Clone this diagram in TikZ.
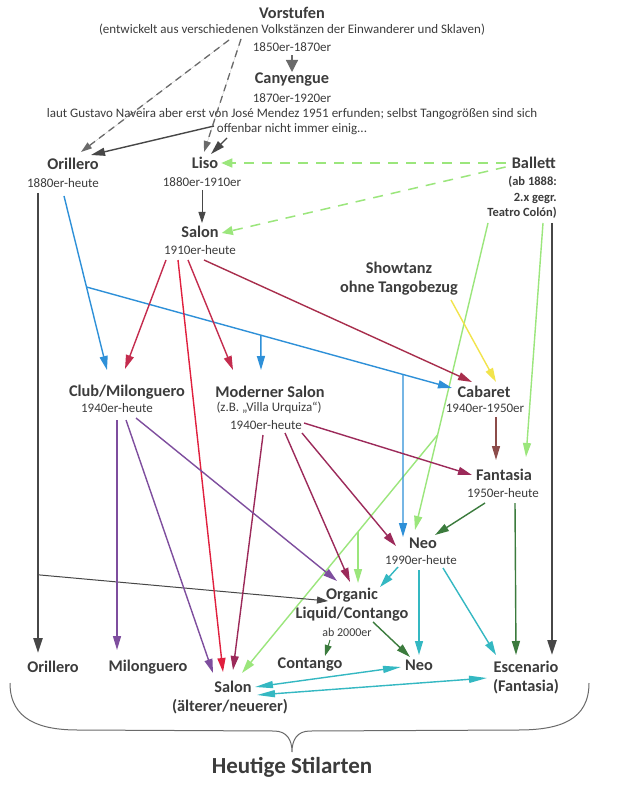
\documentclass[tikz,border=0pt]{standalone}
\usepackage{fontspec}
\setmainfont{Carlito}
\usetikzlibrary{arrows.meta,calc}
\definecolor{txt}{HTML}{3C3C3C}
\definecolor{dgray}{HTML}{474747}
\definecolor{mgray}{HTML}{6A6A6A}
\definecolor{lgreen}{HTML}{9BE67C}
\definecolor{blueL}{HTML}{2E90D8}
\definecolor{crim}{HTML}{C42C4E}
\definecolor{redL}{HTML}{E0203E}
\definecolor{maroon}{HTML}{9C2A5A}
\definecolor{salcab}{HTML}{A82E4C}
\definecolor{yel}{HTML}{F2E44C}
\definecolor{brownL}{HTML}{8C4C4A}
\definecolor{purp}{HTML}{7E4E9E}
\definecolor{tealL}{HTML}{34B8C2}
\definecolor{dgreen}{HTML}{3B7B3D}
\begin{document}
\begin{tikzpicture}[x=1pt,y=-1pt,
  tt/.style={font=\fontsize{16.3}{18}\selectfont\bfseries,text=txt,inner sep=0pt},
  st/.style={font=\fontsize{13}{15}\selectfont,text=txt,inner sep=0pt},
  bst/.style={font=\fontsize{12.5}{14}\selectfont\bfseries,text=txt,inner sep=0pt,anchor=east},
  conn/.style={line width=1.4pt,-{Triangle[length=14pt,width=8pt]}},
  thin/.style={line width=1pt,-{Triangle[length=11pt,width=7pt]}},
  gdash/.style={line width=1.3pt,dash pattern=on 7pt off 5pt,-{Triangle[length=11pt,width=7pt]}},
  ldash/.style={line width=1.5pt,dash pattern=on 10pt off 8pt,-{Triangle[length=11pt,width=9pt]}},
  dbl/.style={line width=1.4pt,{Triangle[length=18pt,width=7pt]}-{Triangle[length=18pt,width=7pt]}},
]
\useasboundingbox (0,0) rectangle (619,794);
\fill[white] (0,0) rectangle (619,794);

% ---- nodes ----
\node[tt] (vor) at (292,13) {Vorstufen};
\node[st] (vorA) at (292,30) {(entwickelt aus verschiedenen Volkstänzen der Einwanderer und Sklaven)};
\node[st] (vorB) at (292,47) {1850er-1870er};
\node[tt] (can) at (292,80) {Canyengue};
\node[st] (canA) at (292,98) {1870er-1920er};
\node[st] (canB) at (292,114) {laut Gustavo Naveira aber erst von José Mendez 1951 erfunden; selbst Tangogrößen sind sich};
\node[st] (canC) at (292,129) {offenbar nicht immer einig...};
\node[tt] (ori) at (73,164) {Orillero};
\node[st] (oriA) at (63,183) {1880er-heute};
\node[tt] (liso) at (205,163) {Liso};
\node[st] (lisoA) at (202,182) {1880er-1910er};
\node[tt,anchor=east] (bal) at (556,163) {Ballett};
\node[bst] (balA) at (557,182) {(ab 1888:};
\node[bst] (balB) at (557,198) {2.x gegr.};
\node[bst] (balC) at (557,213) {Teatro Colón)};
\node[tt] (sal) at (200,232) {Salon};
\node[st] (salA) at (200,250) {1910er-heute};
\node[tt] (show) at (399,268) {Showtanz};
\node[tt] (showA) at (399,288) {ohne Tangobezug};
\node[tt] (club) at (127,392) {Club/Milonguero};
\node[st] (clubA) at (117,408) {1940er-heute};
\node[tt] (mod) at (270,392) {Moderner Salon};
\node[st] (modA) at (269,408) {(z.B. „Villa Urquiza“)};
\node[st] (modB) at (266,425) {1940er-heute};
\node[tt] (cab) at (484,392) {Cabaret};
\node[st] (cabA) at (485,408) {1940er-1950er};
\node[tt] (fan) at (504,475) {Fantasia};
\node[st] (fanA) at (503,493) {1950er-heute};
\node[tt] (neo) at (423,543) {Neo};
\node[st] (neoA) at (421,560) {1990er-heute};
\node[tt] (org) at (352,595) {Organic};
\node[tt] (orgA) at (352,614) {Liquid/Contango};
\node[st,font=\fontsize{12}{13}\selectfont] (orgB) at (347,632) {ab 2000er};
\node[tt] (bOri) at (53,667) {Orillero};
\node[tt] (bMil) at (148,667) {Milonguero};
\node[tt] (bCon) at (310,665) {Contango};
\node[tt] (bNeo) at (419,665) {Neo};
\node[tt] (bEsc) at (526,667) {Escenario};
\node[tt] (bEscA) at (526,687) {(Fantasia)};
\node[tt] (bSal) at (233,687) {Salon};
\node[tt] (bSalA) at (230,707) {(älterer/neuerer)};
\node[tt,font=\fontsize{23}{25}\selectfont\bfseries] (heut) at (292,767) {Heutige Stilarten};

% ---- top ----
\draw[gdash,draw=mgray,fill=mgray] ($(vorA)+(-63,10)$) -- ($(ori)+(8,-12)$);
\draw[gdash,draw=mgray,fill=mgray] ($(vorA)+(-51,9)$) -- ($(liso)+(-1,-11)$);
\fill[mgray] ($(vorB)+(-1,8)$) rectangle ($(vorB)+(1,14)$);
\draw[line width=1.2pt,draw=mgray,fill=mgray,-{Triangle[length=12pt,width=12pt]}] ($(vorB)+(0,10)$) -- ($(can)+(0,-8)$);
\draw[conn,dgray] ($(canC)+(-78,-3)$) -- ($(ori)+(18,-9)$);
\draw[conn,dgray] ($(canC)+(-65,9)$) -- ($(liso)+(6,-9)$);
\draw[thin,dgray,line width=0.8pt] ($(lisoA)+(0,8)$) -- ($(sal)+(2,-9)$);

% ---- Ballett ----
\draw[ldash,lgreen] ($(bal.west)+(-6,0)$) -- ($(liso.east)+(3,0)$);
\draw[ldash,lgreen] ($(bal.west)+(-6,4)$) -- ($(sal.east)+(3,1)$);
\coordinate (g1) at ($(balC.east)+(-69,10)$);
\coordinate (g2) at ($(neo)+(-8,-13)$);
\draw[conn,lgreen] (g1) -- (g2);
\path (g1) -- (g2) coordinate[pos=0.69] (gb);
\coordinate (g3) at ($(bSal)+(9,-14)$);
\draw[conn,lgreen] (gb) -- (g3);
\path (gb) -- (g3) coordinate[pos=0.407] (gv);
\draw[conn,lgreen] (gv) -- (gv |- {$(org)+(0,-12)$});
\draw[conn,lgreen] ($(balC.east)+(-14,10)$) -- ($(fan)+(22,-18)$);
\draw[line width=2.2pt,dgray,-{Triangle[length=15pt,width=9pt]}] ($(balC.east)+(-5,10)$) -- ($(bEsc)+(26,-12)$);

% ---- Orillero ----
\coordinate (o1) at ($(oriA)+(-25,10)$);
\coordinate (o2) at ($(bOri)+(-15,-14)$);
\draw[line width=2.2pt,dgray,-{Triangle[length=15pt,width=9pt]}] (o1) -- (o2);
\path (o1) -- (o2) coordinate[pos=0.83] (ob);
\draw[thin,dgray] (ob) -- ($(org)+(-24,6)$);
\coordinate (b1) at ($(oriA)+(1,13)$);
\coordinate (b2) at ($(club)+(-20,-22)$);
\draw[conn,blueL] (b1) -- (b2);
\path (b1) -- (b2) coordinate[pos=0.523] (bb);
\coordinate (b3) at ($(cab)+(-32,-4)$);
\draw[conn,blueL] (bb) -- (b3);
\path (bb) -- (b3) coordinate[pos=0.477] (bm) coordinate[pos=0.866] (bn);
\draw[conn,blueL] (bm) -- ($(mod)+(-9,-22)$);
\draw[conn,blueL] (bn) -- ($(neo)+(-20,-6)$);

% ---- Salon ----
\draw[conn,crim] ($(salA)+(-34,10)$) -- ($(club)+(-2,-23)$);
\draw[conn,redL] ($(salA)+(-22,10)$) -- ($(bSal)+(-10,-15)$);
\draw[conn,crim] ($(salA)+(-12,10)$) -- ($(mod)+(-37,-22)$);
\draw[conn,salcab] ($(salA)+(4,10)$) -- ($(cab)+(-12,-10)$);
\draw[conn,yel] ($(showA)+(52,12)$) -- ($(cab)+(12,-10)$);
\draw[conn,brownL] ($(cabA)+(11,9)$) -- ($(fan)+(-8,-15)$);

% ---- Moderner Salon ----
\draw[conn,maroon] ($(modB)+(38,-2)$) -- ($(fan)+(-32,0)$);
\draw[conn,maroon] ($(modB)+(36,8)$) -- ($(neo)+(-27,3)$);
\draw[conn,maroon] ($(modB)+(19,8)$) -- ($(org)+(-2,-13)$);
\draw[conn,maroon] ($(modB)+(-3,10)$) -- ($(bSal)+(0,-17)$);

% ---- Club ----
\draw[conn,purp] ($(clubA)+(0,12)$) -- ($(bMil)+(-31,-17)$);
\draw[conn,purp] ($(clubA)+(9,12)$) -- ($(bSal)+(-20,-14)$);
\draw[conn,purp] ($(clubA)+(19,10)$) -- ($(org)+(-15,-14)$);

% ---- Neo / Fantasia / Organic ----
\draw[conn,tealL] ($(neoA)+(-23,7)$) -- ($(org)+(28,-8)$);
\draw[conn,tealL] ($(neoA)+(-2,10)$) -- ($(bNeo)+(0,-10)$);
\draw[conn,tealL] ($(neoA)+(22,8)$) -- ($(bEsc)+(-30,-12)$);
\draw[conn,dgreen] ($(fanA)+(-18,10)$) -- ($(neo)+(12,-8)$);
\draw[conn,dgreen] ($(fanA)+(12,10)$) -- ($(bEsc)+(-10,-12)$);
\draw[conn,dgreen] ($(orgA)+(21,8)$) -- ($(bNeo)+(-9,-8)$);
\draw[thin,dgreen] ($(orgB)+(-17,8)$) -- ($(bCon)+(15,-9)$);

% ---- bottom double arrows ----
\draw[dbl,tealL] ($(bSal)+(22,0)$) -- ($(bNeo)+(-18,2)$);
\draw[dbl,tealL] ($(bSal)+(24,8)$) -- ($(bEsc)+(-39,11)$);

% ---- brace ----
\draw[line width=1pt,mgray] (10,683) .. controls (10,720) and (40,730) .. (78,730)
  -- (274,731) .. controls (287,731) and (292,740) .. (292,752)
  .. controls (292,740) and (297,731) .. (310,731)
  -- (518,730) .. controls (560,730) and (589,720) .. (589,683);
\end{tikzpicture}
\end{document}
